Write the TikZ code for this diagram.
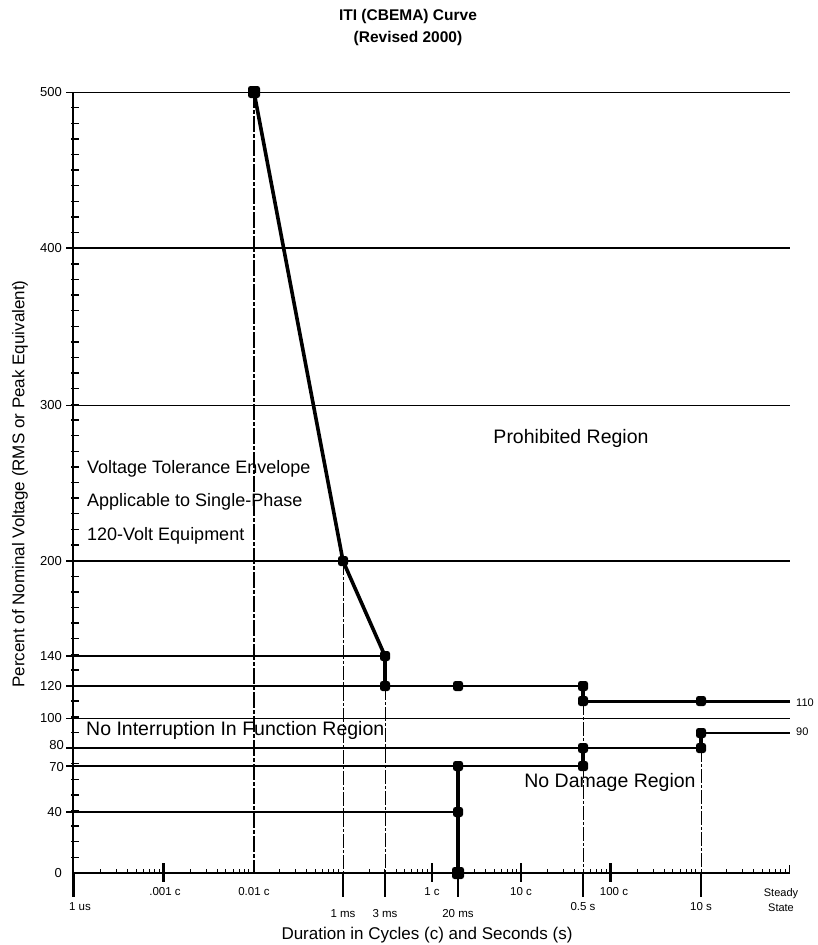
\documentclass[tikz,border=0pt]{standalone}
\usepackage{fontspec}
\setmainfont{Liberation Sans}
\begin{document}
\begin{tikzpicture}[x=1pt,y=-1pt,
  mk/.style={fill=black,rounded corners=2.5pt,minimum size=10pt,inner sep=0pt,draw=none},
  bigmk/.style={mk,minimum size=12pt},
  gthin/.style={line width=1pt},
  gthick/.style={line width=2pt},
  curveline/.style={line width=3.6pt},
  curvemid/.style={line width=2.8pt},
  vdash/.style={line width=0.8pt,dash pattern=on 14pt off 2pt on 3pt off 2pt},
  vdashthick/.style={line width=2.4pt,dash pattern=on 16pt off 2pt on 4pt off 2pt},
  ylab/.style={anchor=east,font=\fontsize{13}{14}\selectfont,inner sep=0pt},
  xlab/.style={font=\fontsize{11.5}{13}\selectfont,inner sep=0pt},
  region/.style={anchor=west,font=\fontsize{18}{20}\selectfont,inner sep=0pt}
]
\useasboundingbox (0,0) rectangle (817,945);

% title
\node[font=\bfseries\fontsize{15.5}{22}\selectfont,align=center] (title) at (408,27) {ITI (CBEMA) Curve\\(Revised 2000)};

% horizontal grid lines
\draw[gthin] (66,92) -- (790,92);
\draw[gthick] (66,248) -- (790,248);
\draw[gthin] (66,405) -- (790,405);
\draw[gthick] (66,561) -- (790,561);
\draw[gthick] (66,656) -- (385,656);
\draw[gthick] (66,686) -- (385,686);
\draw[gthin] (66,718) -- (790,718);
\draw[gthick] (66,748) -- (583,748);
\draw[gthick] (66,766) -- (458,766);
\draw[gthick] (66,812) -- (458,812);

% axes
\draw[line width=1.5pt] (73,92) -- (73,897);
\draw[line width=1.3pt] (73,873) -- (790,873);
\foreach \v in {10,20,...,490} {
  \draw[line width=1.4pt] (71,{873-1.562*\v}) -- (79,{873-1.562*\v});
}
\foreach \k in {0,...,7} {
  \foreach \m in {2,...,9} {
    \draw[line width=0.9pt] ({74+89.4*(\k+log10(\m))},873) -- ++(0,-4);
  }
}
\foreach \x in {163.4,431.6,521,610.4} {
  \draw[line width=2.2pt] (\x,863) -- (\x,882);
}
\draw[line width=1.2pt] (789.2,873) -- (789.2,865);
\foreach \x in {74,343,385,458,583,701} {
  \draw[line width=2pt] (\x,873) -- (\x,897);
}

% y labels
\node[ylab] (l500) at (62,92) {500};
\node[ylab] (l400) at (62,248) {400};
\node[ylab] (l300) at (62,405) {300};
\node[ylab] (l200) at (62,561) {200};
\node[ylab] (l140) at (62,656) {140};
\node[ylab] (l120) at (62,686) {120};
\node[ylab] (l100) at (62,718) {100};
\node[ylab] (l80) at (64,745) {80};
\node[ylab] (l70) at (64,767) {70};
\node[ylab] (l40) at (62,812) {40};
\node[ylab] (l0) at (62,873) {0};

% markers
\node[bigmk] (p500) at (254,92) {};
\node[mk] (p200) at (343,561) {};
\node[mk] (p140) at (385,656) {};
\node[mk] (p120a) at (385,686) {};
\node[mk] (p120b) at (458,686) {};
\node[mk] (p120c) at (583,686) {};
\node[mk] (p110a) at (583,701) {};
\node[mk] (p110b) at (701,701) {};
\coordinate (p110end) at (790,701);
\node[bigmk] (q0) at (458,873) {};
\node[mk] (q40) at (458,812) {};
\node[mk] (q70a) at (458,766) {};
\node[mk] (q70b) at (583,766) {};
\node[mk] (q80a) at (583,748) {};
\node[mk] (q80b) at (701,748) {};
\node[mk] (q90) at (701,733) {};
\coordinate (q90end) at (790,733);
\coordinate (b001) at (254,873);
\coordinate (b1ms) at (343,873);
\coordinate (b3ms) at (385,873);
\coordinate (b05s) at (583,873);
\coordinate (b10s) at (701,873);

% vertical dashed lines
\draw[vdashthick] (p500.center) -- (b001);
\draw[vdash] (p200.center) -- (b1ms);
\draw[vdash] (p120a.center) -- (b3ms);
\draw[vdash] (p110a.center) -- (b05s);
\draw[vdash] (q80b.center) -- (b10s);

% upper curve
\draw[curveline,line join=round] (p500.center) -- (p200.center) -- (p140.center) -- (p120a.center);
\draw[gthick] (p120a.center) -- (p120b.center) -- (p120c.center);
\draw[curveline] (p120c.center) -- (p110a.center);
\draw[line width=3pt] (p110a.center) -- (p110b.center) -- (p110end);

% lower curve
\draw[curveline] (q0.center) -- (q40.center) -- (q70a.center);
\draw[curvemid] (q70a.center) -- (q70b.center);
\draw[curveline] (q70b.center) -- (q80a.center);
\draw[curvemid] (q80a.center) -- (q80b.center);
\draw[curveline] (q80b.center) -- (q90.center);
\draw[line width=1.5pt] (q90.center) -- (q90end);

% right labels
\node[anchor=west,font=\fontsize{11}{12}\selectfont,inner sep=0pt] (t110) at (796,703) {110};
\node[anchor=west,font=\fontsize{11}{12}\selectfont,inner sep=0pt] (t90) at (796,732) {90};

% region texts
\node[font=\fontsize{19.5}{22}\selectfont] (prohib) at (571,438) {Prohibited Region};
\node[region] (vt1) at (87,469) {Voltage Tolerance Envelope};
\node[region] (vt2) at (87,502) {Applicable to Single-Phase};
\node[region] (vt3) at (87,536) {120-Volt Equipment};
\node[region,font=\fontsize{19.5}{22}\selectfont] (nif) at (86,730) {No Interruption In Function Region};
\node[font=\fontsize{19.5}{22}\selectfont] (nodmg) at (610,782) {No Damage Region};

% x labels
\node[xlab] at (165,892) {.001 c};
\node[xlab] at (254,892) {0.01 c};
\node[xlab] at (432,892) {1 c};
\node[xlab] at (521,892) {10 c};
\node[xlab] at (614,892) {100 c};
\node[xlab] at (80,907) {1 us};
\node[xlab] at (583,907) {0.5 s};
\node[xlab] at (701,907) {10 s};
\node[xlab] at (343,914) {1 ms};
\node[xlab] at (385,914) {3 ms};
\node[xlab] at (458,914) {20 ms};
\node[xlab,align=center,font=\fontsize{11}{14.5}\selectfont] at (781,900) {Steady\\State};

% axis titles
\node[font=\fontsize{17}{19}\selectfont] (xtitle) at (427,935) {Duration in Cycles (c) and Seconds (s)};
\node[rotate=90,font=\fontsize{17}{19}\selectfont] (ytitle) at (20,484) {Percent of Nominal Voltage (RMS or Peak Equivalent)};
\end{tikzpicture}
\end{document}
